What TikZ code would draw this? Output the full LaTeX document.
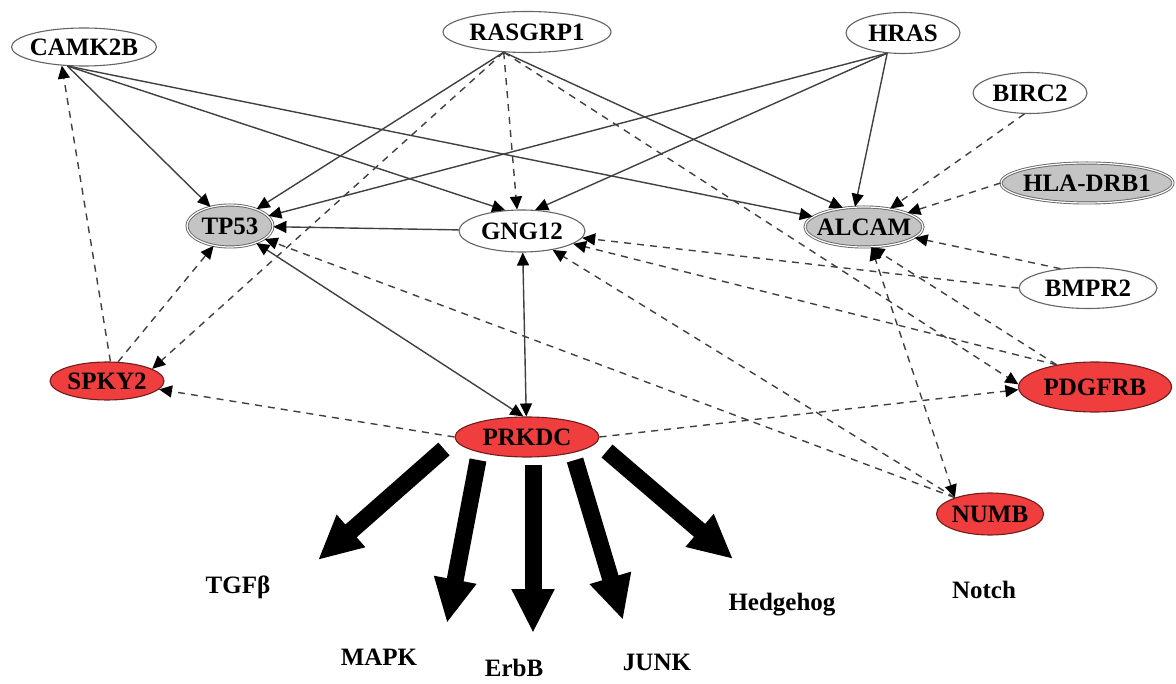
\documentclass[tikz,border=0pt]{standalone}
\usepackage{fontspec}
\setmainfont{Liberation Serif}
\usetikzlibrary{shapes.geometric,arrows.meta}
\definecolor{nodered}{RGB}{240,62,62}
\definecolor{nodegray}{RGB}{196,196,196}
\definecolor{edgegray}{RGB}{64,64,64}
\definecolor{rimgray}{RGB}{100,100,100}
\definecolor{rimred}{RGB}{110,30,30}
% zero-width label so the ellipse size is set by the style alone
\newcommand{\zw}[1]{\makebox[0pt]{#1}}

\begin{document}
\begin{tikzpicture}[x=1pt,y=-1pt,
  gene/.style={ellipse, inner sep=0pt, line width=1.1pt,
               font=\fontsize{25}{25}\selectfont\bfseries},
  genew/.style={gene, draw=rimgray, fill=white},
  geneg/.style={gene, draw=rimgray, fill=nodegray, double=white,
                double distance=1.2pt, line width=0.9pt},
  gener/.style={gene, draw=rimred, fill=nodered},
  headtip/.style={-{Triangle[length=13pt,width=12pt,color=black]}},
  bothtips/.style={{Triangle[length=13pt,width=12pt,color=black]}-{Triangle[length=13pt,width=12pt,color=black]}},
  sol/.style={draw=edgegray, line width=1.4pt},
  dsh/.style={sol, dash pattern=on 7pt off 6pt},
  fat/.style={line width=17pt, black, -{Triangle[length=44pt,width=40pt]}},
  pathway/.style={font=\fontsize{25}{25}\selectfont\bfseries, inner sep=0pt, anchor=base}
]
\useasboundingbox (0,0) rectangle (1176,684);
\clip (0,0) rectangle (1176,684);

% genes
\node[genew, minimum width=145pt, minimum height=38pt] (camk)  at (84,47)   {\zw{CAMK2B}};
\node[genew, minimum width=168pt, minimum height=41pt] (ras)   at (527,32)  {\zw{RASGRP1}};
\node[genew, minimum width=114pt, minimum height=41pt] (hras)  at (903,33)  {\zw{HRAS}};
\node[genew, minimum width=114pt, minimum height=41pt] (birc)  at (1030,93) {\zw{BIRC2}};
\node[geneg, minimum width=172pt, minimum height=40pt] (hla)   at (1087,183){\zw{HLA-DRB1}};
\node[geneg, minimum width=118pt, minimum height=40pt] (alcam) at (864,227) {\zw{ALCAM}};
\node[geneg, minimum width=86pt,  minimum height=42pt] (tp)    at (230,226) {\zw{TP53}};
\node[genew, minimum width=126pt, minimum height=42pt] (gng)   at (522,231) {\zw{GNG12}};
\node[genew, minimum width=138pt, minimum height=41pt] (bmpr)  at (1088,288){\zw{BMPR2}};
\node[gener, minimum width=153pt, minimum height=50pt] (pdg)   at (1095,387){\zw{PDGFRB}};
\node[gener, minimum width=114pt, minimum height=38pt] (spky)  at (107,381) {\zw{SPKY2}};
\node[gener, minimum width=144pt, minimum height=40pt] (prk)   at (527,437) {\zw{PRKDC}};
\node[gener, minimum width=107pt, minimum height=42pt] (numb)  at (990,514) {\zw{NUMB}};

% pathways
\node[pathway] (tgf)   at (238,593) {TGFβ};
\node[pathway] (mapk)  at (379,665) {MAPK};
\node[pathway] (erbb)  at (514,676) {ErbB};
\node[pathway] (junk)  at (657,670) {JUNK};
\node[pathway] (hedge) at (782,610) {Hedgehog};
\node[pathway] (notch) at (984,598) {Notch};

% solid interactions
\draw[sol, headtip] (camk.-131) -- (tp);
\draw[sol, headtip] (camk.-131) -- (gng.129);
\draw[sol, headtip] (camk.-131) -- (alcam);
\draw[sol, headtip] (ras.-139) -- (tp);
\draw[sol, headtip] (ras.-139) -- (alcam.138);
\draw[sol, headtip] (hras.-128) -- (tp);
\draw[sol, headtip] (hras.-128) -- (gng.58);
\draw[sol, headtip] (hras.-128) -- (alcam.114);
\draw[sol, headtip] (gng) -- (tp);
\draw[sol, bothtips] (gng.-88) -- (prk.92);
\draw[sol, bothtips] (tp) -- (prk.100);

% dashed interactions
\draw[dsh, headtip] (spky.80) -- (camk.-140);
\draw[dsh, headtip] (spky.60) -- (tp);
\draw[dsh, headtip] (ras.-139) -- (spky.15);
\draw[dsh, headtip] (ras.-139) -- (gng.103);
\draw[dsh, headtip] (ras.-139) -- (pdg.178);
\draw[dsh, headtip] (prk.west) -- (spky);
\draw[dsh, headtip] (prk.east) -- (pdg.182);
\draw[dsh, headtip] (birc.-105) -- (alcam);
\draw[dsh, headtip] (hla.west) -- (alcam);
\draw[dsh, headtip] (bmpr.145) -- (alcam);
\draw[dsh, headtip] (bmpr.west) -- (gng);
\draw[dsh, headtip] (pdg.150) -- (gng);
\draw[dsh, headtip] (pdg.150) -- (alcam.-70);
\draw[dsh, bothtips] (numb.155) -- (alcam.-70);
\draw[dsh, headtip] (numb.155) -- (gng);
\draw[dsh, headtip] (numb.155) -- (tp);

% pathway arrows
\coordinate (f1s) at (444,449); \coordinate (f1e) at (318,560);
\coordinate (f2s) at (478,460); \coordinate (f2e) at (447,623);
\coordinate (f3s) at (533,465); \coordinate (f3e) at (533,633);
\coordinate (f4s) at (575,460); \coordinate (f4e) at (623,620);
\coordinate (f5s) at (607,451); \coordinate (f5e) at (733,559);
\draw[fat] (f1s) -- (f1e);
\draw[fat] (f2s) -- (f2e);
\draw[fat] (f3s) -- (f3e);
\draw[fat] (f4s) -- (f4e);
\draw[fat] (f5s) -- (f5e);
\end{tikzpicture}
\end{document}
